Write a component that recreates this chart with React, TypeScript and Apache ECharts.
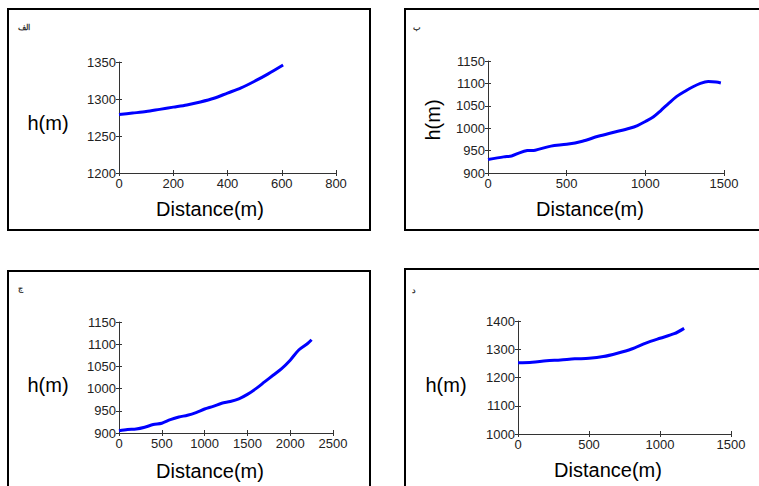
import React, { useEffect, useRef } from "react";
import * as echarts from "echarts";

// Panel labels (Persian)
const panelLabels = ["الف", "ب", "ج", "د"];

// Panel A
const distA = [0, 50, 100, 150, 200, 250, 300, 350, 400, 450, 500, 550, 605];
const hA = [1279, 1281, 1283, 1286, 1289, 1292, 1296, 1301, 1308, 1315, 1324, 1334, 1346];

// Panel B
const distB = [0, 100, 150, 200, 250, 300, 400, 500, 600, 700, 800, 900, 950, 1000, 1050, 1100, 1150, 1200, 1250, 1300, 1350, 1400, 1450, 1480];
const hB = [930, 936, 938, 945, 950, 951, 960, 964, 971, 982, 991, 1000, 1006, 1015, 1025, 1040, 1056, 1071, 1082, 1092, 1100, 1104, 1103, 1101];

// Panel C
const distC = [0, 100, 200, 300, 400, 500, 600, 700, 800, 900, 1000, 1100, 1200, 1300, 1400, 1500, 1600, 1700, 1800, 1900, 2000, 2100, 2200, 2250];
const hC = [905, 908, 909, 913, 919, 922, 930, 936, 940, 946, 954, 960, 967, 971, 977, 987, 1000, 1015, 1030, 1045, 1064, 1087, 1101, 1110];

// Panel D
const distD = [0, 100, 200, 300, 400, 500, 600, 700, 800, 900, 1000, 1100, 1170];
const hD = [1252, 1254, 1259, 1262, 1266, 1268, 1274, 1286, 1301, 1322, 1339, 1355, 1374];

// Axis ranges
const xMin = [0, 0, 0, 0];
const xMax = [800, 1500, 2500, 1500];
const xStep = [200, 500, 500, 500];
const yMin = [1200, 900, 900, 1000];
const yMax = [1350, 1150, 1150, 1400];
const yStep = [50, 50, 50, 100];

const xName = "Distance(m)";
const yName = "h(m)";

const FONT = "Liberation Sans, Arial, sans-serif";

export default function App() {
  const ref = useRef<HTMLDivElement>(null);
  useEffect(() => {
    if (!ref.current) return;
    const chart = echarts.init(ref.current, null, { renderer: "svg" });
    const grids = [
      { left: 119, top: 62, width: 217, height: 111 },
      { left: 488, top: 61, width: 236, height: 112 },
      { left: 119, top: 322, width: 214, height: 111 },
      { left: 518, top: 321, width: 213, height: 113 },
    ];
    const dists = [distA, distB, distC, distD];
    const hs = [hA, hB, hC, hD];
    const xAxes: any[] = [];
    const yAxes: any[] = [];
    const series: any[] = [];
    const tickColor = "#333";
    const fmt = (v: number) => String(v);
    grids.forEach((g, i) => {
      xAxes.push({
        type: "value", gridIndex: i, min: xMin[i], max: xMax[i], interval: xStep[i],
        splitLine: { show: false },
        axisLine: { show: true, onZero: false, lineStyle: { color: tickColor, width: 1 } },
        axisTick: { show: true, length: 3, lineStyle: { color: tickColor } },
        axisLabel: { color: "#222", fontSize: 13, fontFamily: FONT, margin: 4, formatter: fmt },
      });
      yAxes.push({
        type: "value", gridIndex: i, min: yMin[i], max: yMax[i], interval: yStep[i],
        splitLine: { show: false },
        axisLine: { show: true, onZero: false, lineStyle: { color: tickColor, width: 1 } },
        axisTick: { show: true, length: 3, lineStyle: { color: tickColor } },
        axisLabel: { color: "#222", fontSize: 13, fontFamily: FONT, margin: 3, formatter: fmt },
      });
    });
    grids.forEach((g, i) => {
      xAxes.push({
        type: "value", gridIndex: i, min: xMin[i], max: xMax[i], interval: xStep[i],
        splitLine: { show: false },
        axisLine: { show: false, onZero: false },
        axisTick: { show: true, inside: true, length: 3, lineStyle: { color: tickColor } },
        axisLabel: { show: false },
        position: "bottom",
      });
      yAxes.push({
        type: "value", gridIndex: i, min: yMin[i], max: yMax[i], interval: yStep[i],
        splitLine: { show: false },
        axisLine: { show: false, onZero: false },
        axisTick: { show: true, inside: true, length: 3, lineStyle: { color: tickColor } },
        axisLabel: { show: false },
        position: "left",
      });
      series.push({
        type: "line", xAxisIndex: i, yAxisIndex: i,
        data: dists[i].map((d, k) => [d, hs[i][k]]),
        showSymbol: false, smooth: 0.3,
        lineStyle: { color: "#0000ff", width: 3 },
      });
    });

    const boxes = [
      { x: 8, y: 9, w: 362, h: 221 },
      { x: 405, y: 9, w: 360, h: 221 },
      { x: 8, y: 271, w: 362, h: 220 },
      { x: 405, y: 269, w: 360, h: 222 },
    ];
    const graphic: any[] = [];
    boxes.forEach((b) => {
      graphic.push({
        type: "rect", shape: { x: b.x, y: b.y, width: b.w, height: b.h },
        style: { fill: "none", stroke: "#000", lineWidth: 2 }, z: 0,
      });
    });
    const labelPos = [[30, 27], [421, 27], [23, 288], [416, 290]];
    labelPos.forEach((p, i) => {
      graphic.push({
        type: "text", x: p[0], y: p[1],
        style: { text: panelLabels[i], font: `bold 8px ${FONT}`, fill: "#333", textAlign: "right", textVerticalAlign: "middle" },
      });
    });
    const distPos = [[210, 209], [590, 209], [210, 471], [608, 470]];
    distPos.forEach((p) => {
      graphic.push({
        type: "text", x: p[0], y: p[1],
        style: { text: xName, font: `20px ${FONT}`, fill: "#000", textAlign: "center", textVerticalAlign: "middle" },
      });
    });
    const hPos = [[48, 123], [48, 385], [446, 385]];
    hPos.forEach((p) => {
      graphic.push({
        type: "text", x: p[0], y: p[1],
        style: { text: yName, font: `20px ${FONT}`, fill: "#000", textAlign: "center", textVerticalAlign: "middle" },
      });
    });
    graphic.push({
      type: "text", x: 433, y: 120, rotation: Math.PI / 2,
      style: { text: yName, font: `20px ${FONT}`, fill: "#000", textAlign: "center", textVerticalAlign: "middle" },
    });

    chart.setOption({
      animation: false,
      backgroundColor: "#fff",
      grid: grids.map((g) => ({ ...g, containLabel: false })),
      xAxis: xAxes,
      yAxis: yAxes,
      series,
      graphic,
    });
    return () => chart.dispose();
  }, []);
  return (
    <div
      ref={ref}
      style={{ position: "fixed", left: 0, top: 0, width: 759, height: 486 }}
    />
  );
}
